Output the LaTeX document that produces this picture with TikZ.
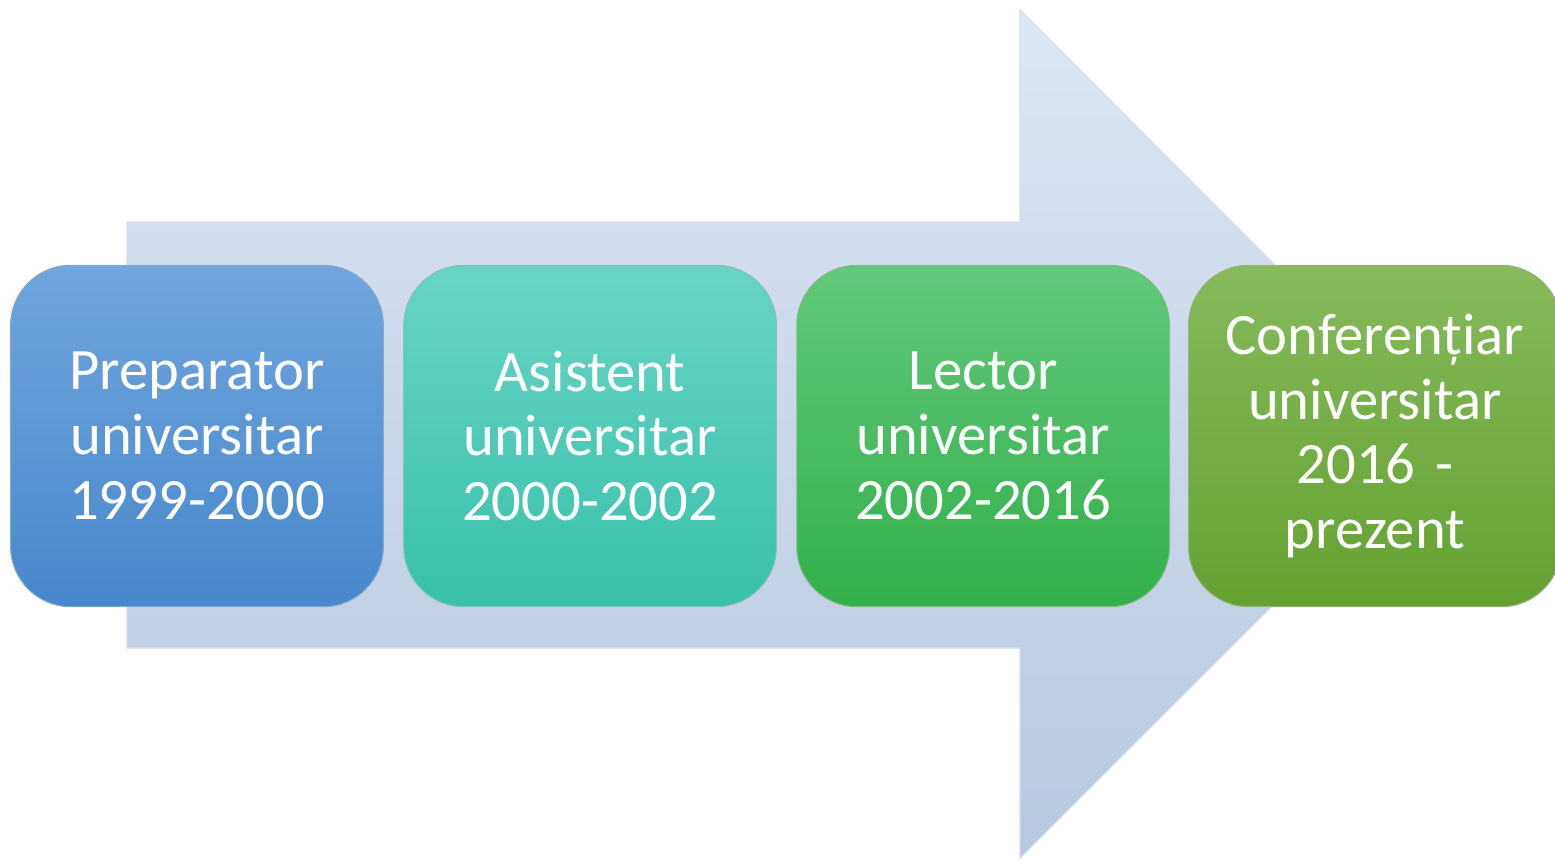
\documentclass[tikz,border=0pt]{standalone}
\usepackage{fontspec}
\setmainfont{Carlito}
\usetikzlibrary{positioning}
\definecolor{arrowtop}{HTML}{DCE6F4}
\definecolor{arrowbot}{HTML}{B8C8DE}
\definecolor{prepTop}{HTML}{70A6DE}
\definecolor{prepBot}{HTML}{4787CB}
\definecolor{asisTop}{HTML}{68D4C4}
\definecolor{asisBot}{HTML}{39C1AA}
\definecolor{lectTop}{HTML}{62C97A}
\definecolor{lectBot}{HTML}{32AF4A}
\definecolor{confTop}{HTML}{86BA5C}
\definecolor{confBot}{HTML}{63A130}
\tikzset{
    stage/.style={rounded corners=45pt, minimum width=279.5pt, minimum height=256pt,
        inner sep=0pt, text width=270pt, align=center, text=white,
        font=\fontsize{44}{48.5}\selectfont, line width=0.8pt,
        top color=#1Top, bottom color=#1Bot, draw=#1Bot!80!black!60!white},
}

\begin{document}
\begin{tikzpicture}[x=0.75pt, y=-0.75pt]
    \useasboundingbox (0, 0) rectangle (1555, 861);
    % big arrow behind the stages
    \draw[top color=arrowtop, bottom color=arrowbot, draw=arrowbot!60!white, line width=0.8pt]
        (127, 222) -- (1020, 222) -- (1020, 10) -- (1444, 434) -- (1020, 858)
        -- (1020, 648) -- (127, 648) -- cycle;
    \node[stage=prep] (preparator) at (197, 436) {Preparator\\universitar\\1999-2000};
    \node[stage=asis, right=14.5pt of preparator] (asistent) {Asistent\\universitar\\2000-2002};
    \node[stage=lect, right=14.5pt of asistent] (lector) {Lector\\universitar\\2002-2016};
    \node[stage=conf, right=13.5pt of lector] (conferentiar) {Conferențiar\\universitar\\2016 -\\prezent};
\end{tikzpicture}
\end{document}
